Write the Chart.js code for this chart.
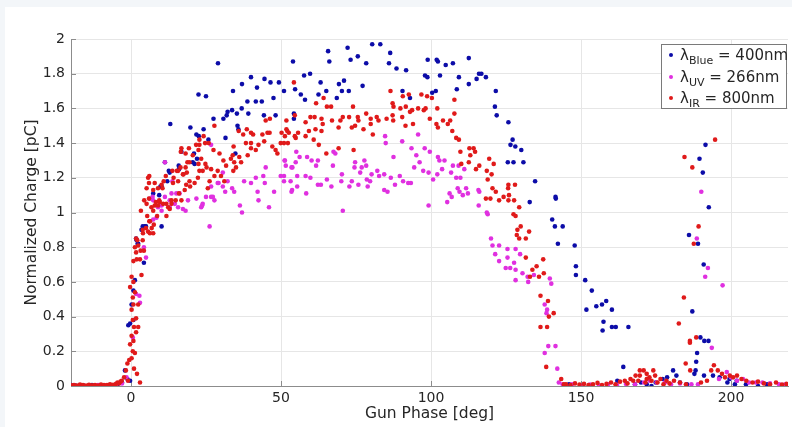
<!DOCTYPE html>
<html>
<head>
<meta charset="utf-8">
<script src="https://cdn.jsdelivr.net/npm/chart.js@4.4.0/dist/chart.umd.min.js"></script>
<style>
  html, body { margin: 0; padding: 0; }
  body { width: 792px; height: 427px; background: #f3f6f9; position: relative; overflow: hidden; font-family: "DejaVu Sans", sans-serif; }
  #panel { position: absolute; left: 5px; top: 7px; right: 0; bottom: 0; background: #fff; }
  #wrap { position: absolute; left: 0; top: 0; width: 792px; height: 427px; }
  #legend { position: absolute; left: 661px; top: 44px; width: 124px; height: 63px; border: 1px solid #7a7a7a; background: #fff; font-size: 15px; color: #262626; }
  .row { position: absolute; left: 0; height: 20px; line-height: 20px; white-space: nowrap; }
  .dot { position: absolute; left: 7px; top: 8px; width: 4px; height: 4px; border-radius: 50%; }
  .txt { position: absolute; left: 18px; top: 0; }
  sub { font-size: 11px; vertical-align: -4px; line-height: 0; }
</style>
</head>
<body>
<div id="panel"></div>
<div id="wrap"><canvas id="chart" width="792" height="427"></canvas></div>
<div id="legend">
  <div class="row" style="top:0px"><span class="dot" style="background:#0c0ca8"></span><span class="txt">&lambda;<sub>Blue</sub> = 400nm</span></div>
  <div class="row" style="top:22px"><span class="dot" style="background:#e030e0"></span><span class="txt">&lambda;<sub>UV</sub> = 266nm</span></div>
  <div class="row" style="top:43px"><span class="dot" style="background:#e01a1a"></span><span class="txt">&lambda;<sub>IR</sub> = 800nm</span></div>
</div>
<script>
// axis ticks
const xTicks = [0, 50, 100, 150, 200];
const yTicks = [0, 0.2, 0.4, 0.6, 0.8, 1, 1.2, 1.4, 1.6, 1.8, 2];
const yTickLabels = ['0', '0.2', '0.4', '0.6', '0.8', '1', '1.2', '1.4', '1.6', '1.8', '2'];

// [phase deg, charge pC]
const bluePoints = [
  [-20,0.005],[-18.5,0.003],[-16,0.004],[-13,0.006],[-10,0.003],[-7,0.006],[-4.5,0.01],[-3,0.02],[-2,0.09],[-1.2,0.04],[-0.3,0.03],
  [-0.9,0.35],[-0.3,0.36],[0.8,0.38],[0.2,0.47],[1.3,0.61],[0.8,0.55],[2.4,0.82],[1.7,0.85],[4.3,0.71],[3.5,0.9],[5,0.92],[1.9,0.84],
  [2.2,0.82],[4.6,0.92],[3.9,0.92],[10.2,0.92],[7.4,1.11],[10.2,1.15],[9.4,1.1],[9.8,1.15],[12.1,1.18],[12.6,1.24],[12.9,1.23],[11.3,1.29],
  [16,1.25],[15.9,1.27],[16.8,1.35],[13.1,1.51],[19.8,1.49],[21.8,1.45],[22.6,1.44],[24.2,1.48],[25.8,1.42],[20.6,1.29],[21,1.34],[22,1.31],
  [21.2,1.28],[27.5,1.54],[30.8,1.54],[31.9,1.56],[32.2,1.58],[33.7,1.59],[35.3,1.57],[36.9,1.6],[39.1,1.57],[38.8,1.64],[41.6,1.64],
  [43.6,1.64],[44.3,1.56],[48.2,1.56],[35.5,1.5],[35.8,1.48],[31.5,1.43],[34.8,1.34],[22.5,1.68],[25,1.67],[29,1.86],[34,1.7],[37,1.74],
  [40,1.78],[42,1.72],[44.5,1.77],[46.5,1.75],[47.5,1.66],
  [49.3,1.75],[51,1.7],[54,1.87],[54.7,1.71],[56.6,1.68],[58,1.65],[57.7,1.79],[59.7,1.8],[63.2,1.75],[62.5,1.68],[65.1,1.7],[65.7,1.93],
  [66.1,1.87],[68.6,1.66],[69.3,1.74],[70.3,1.7],[71,1.76],[72.2,1.95],[72.6,1.7],[73.2,1.88],[75.6,1.9],[77.2,1.73],[78.4,1.86],[80.4,1.97],
  [83.1,1.97],[86,1.86],[86.4,1.92],[88.5,1.83],[90.5,1.7],[91.7,1.82],[93,1.66],[98,1.79],[98.8,1.78],[98.9,1.88],[100.4,1.69],[101.6,1.7],
  [101.9,1.88],[102.3,1.87],[103,1.79],[104.9,1.85],[107.3,1.86],[108.6,1.71],[109.3,1.78],[112.6,1.89],[112.6,1.74],[115.2,1.77],[116,1.8],
  [116.8,1.8],[118.3,1.78],[121.6,1.7],[121.3,1.61],[121.9,1.56],[54.3,1.57],[54.3,1.54],
  [125.8,1.52],[127.2,1.42],[126.5,1.39],[128.1,1.38],[130.1,1.36],[125.6,1.29],[127.5,1.29],[130.8,1.29],[134.7,1.18],[132.9,1.06],
  [141.5,1.09],[141.6,1.08],[140.4,0.96],[141.3,0.92],[143.9,0.92],[142.3,0.82],[147.9,0.81],[148.3,0.69],[148.3,0.64],[151.4,0.61],
  [153.6,0.55],[151.8,0.44],[155.1,0.46],[157,0.47],[158.4,0.49],[160.3,0.44],[157.5,0.37],[157.2,0.32],[160.3,0.34],[161.6,0.34],
  [165.8,0.34],[164.1,0.11],[162.1,0.03],[171.9,0.01],[173.5,0],[174.9,0.02],[177.2,0.04],[178.7,0.05],[180.7,0.09],[181.8,0.06],[185.3,0.01],
  [187.1,0.43],[186,0.87],[189,0.82],[190.9,0.7],[192.6,1.03],[190.6,1.23],[189.5,1.31],[191.5,1.39],[189.8,0.28],[191.1,0.26],[192.5,0.26],
  [188.7,0.19],[188.4,0.14],[188.2,0.09],[187.8,0.07],[191,0.06],[194,0.06],[196.2,0.05],[198.8,0.02],[199.5,0.04],[201.3,0.01],[201.9,0.03],
  [168,0.01],[170,0.02],[183,0.02],[146,0.01],[150,0],[205,0.01],[209,0],[212,0.01]
];

const uvPoints = [
  [-20,0.002],[-17,0.004],[-14,0.003],[-11,0.005],[-8,0.004],[-5,0.008],[-3,0.015],[-1.5,0.05],
  [0.6,0.28],[1.7,0.53],[2.8,0.52],[3,0.48],[5,0.74],[4.3,0.8],[6.3,0.95],[7.4,0.96],[8.5,0.97],[10.2,1.01],[12.9,1.03],[7.2,1.09],
  [11.3,1.09],[13.5,1.11],[16.2,1.11],[18.2,1.01],[23.7,1.04],[26.2,0.92],[25,1.09],[29.2,1.17],[11.3,1.29],[6.3,1.08],[7.4,1.07],
  [9,1.03],[10.2,1.04],[12.9,1.07],[14.6,1.05],[15.7,1.03],[15.1,1.11],[13.8,1.18],[17.3,1.02],[19,1.07],[21.8,1.08],[23.4,1.03],
  [23.9,1.05],[26.7,1.09],[27.3,1.09],[27.8,1.07],[26.7,1.15],[28.9,1.17],[30.6,1.15],[31.4,1.12],[26.7,1.39],[30.6,1.23],[32.2,1.18],
  [33.7,1.14],[34.4,1.12],[36.3,1.04],[37,1],[37.7,1.18],[40,1.17],[41.6,1.2],[42.2,1.12],[42.5,1.07],[44.1,1.21],[44.6,1.17],[44.9,1.26],
  [46,1.03],[47.7,1.12],[49.9,1.21],[51,1.18],[53.2,1.18],[53.7,1.13],[53.5,1.26],[51.3,1.3],[54.9,1.29],
  [84.7,1.44],[84.9,1.4],[51.2,1.3],[51.6,1.27],[51,1.21],[53.8,1.26],[53.5,1.12],[55.1,1.35],[56.2,1.32],[58.7,1.32],[60.2,1.3],[62.3,1.3],
  [61.7,1.27],[55.4,1.21],[58.2,1.21],[59.8,1.2],[62.3,1.16],[63.3,1.16],[55.4,1.15],[58.4,1.11],[65.3,1.19],[66.8,1.15],[67.5,1.35],
  [68.1,1.34],[67.3,1.27],[70.3,1.22],[70.1,1.18],[70.6,1.01],[72.8,1.15],[73.6,1.18],[74.5,1.26],[74.7,1.29],[75.8,1.16],[76.4,1.23],
  [76.9,1.26],[77.8,1.3],[78.4,1.27],[78.6,1.19],[78.9,1.15],[79.7,1.18],[80.2,1.22],[82.1,1.24],[82.7,1.21],[84.4,1.22],[84.4,1.13],
  [85.5,1.12],[86.6,1.2],[87.5,1.32],[88,1.16],
  [90.4,1.41],[95.7,1.45],[93.5,1.37],[97.9,1.37],[99.6,1.35],[95.1,1.33],[94.4,1.26],[96.2,1.29],[97.4,1.24],[99.2,1.23],[89.6,1.21],
  [90.7,1.18],[92.4,1.17],[93.3,1.17],[102.3,1.32],[102.8,1.3],[104.5,1.3],[102.1,1.22],[103.7,1.25],[100.7,1.19],[107.3,1.27],[109.2,1.27],
  [106.7,1.23],[108.4,1.2],[109.8,1.2],[111.1,1.25],[106.2,1.11],[106.9,1.09],[108.9,1.14],[109.5,1.12],[110.6,1.1],[112.3,1.11],
  [111.7,1.14],[105.4,1.06],[99.2,1.04],[116.1,1.12],[115.9,1.04],[118.9,0.99],[115.8,1.13],[118.6,1],[120,0.85],[120.5,0.81],[121.4,0.76],
  [122.7,0.81],[122.7,0.72],[125.5,0.79],[125.5,0.74],[124.9,0.68],[126.4,0.68],[128.2,0.79],[129.7,0.76],[127.7,0.71],[128.2,0.67],
  [128.2,0.61],[130.5,0.65],[132.2,0.63],[132.4,0.6],[134.3,0.64],[139.6,0.62],[140.1,0.59],[137.9,0.47],[138.7,0.44],[138.5,0.42],
  [139.1,0.23],[141.5,0.23],[137.9,0.19],[142.1,0.1],[142.6,0.02],[143.9,0.01],
  [145,0.005],[147,0.01],[150,0.003],[153,0.008],[156,0.004],[159,0.01],[162,0.006],[165,0.012],[168,0.01],[171,0.02],[173,0.03],
  [175.2,0.02],[178,0.02],[180,0.01],[183,0.015],[186.8,0.01],[189,0.01],[188.6,0.85],[190.1,1.12],[191.4,0.63],[192.3,0.68],[197.2,0.58],
  [193.6,0.22],[198.6,0.08],[196,0.04],[200,0.05],[202,0.03],[204,0.04],[206,0.02],[208.3,0.02],[210.5,0.02],[213,0.015],[216,0.01],[218,0.008]
];

const irPoints = [
  [-20,0.004],[-19,0.006],[-18,0.003],[-17,0.008],[-16,0.005],[-15,0.002],[-14,0.007],[-13,0.004],[-12,0.006],[-11,0.003],[-10,0.008],
  [-9,0.005],[-8,0.006],[-7,0.01],[-6,0.007],[-5,0.012],[-4.5,0.02],[-4,0.015],[-3.5,0.025],
  [-3.1,0.03],[-2.3,0.05],[-1.7,0.09],[-1.2,0.13],[-0.6,0.15],[0.2,0.16],[0.6,0.2],[1.3,0.19],[-0.3,0.24],[0.8,0.26],[0.2,0.29],[1.7,0.31],
  [1,0.34],[0.6,0.38],[1.7,0.39],[2.4,0.34],[0.2,0.44],[0.8,0.47],[2.4,0.47],[0.6,0.51],[1.3,0.54],[-0.3,0.57],[0.8,0.6],[0.2,0.63],
  [3.5,0.64],[0.8,0.72],[1.9,0.73],[3,0.73],[1.7,0.77],[3.2,0.78],[4.3,0.78],[1.3,0.8],[2.4,0.81],[1.7,0.85],[2.1,0.84],[3.9,0.84],[4,0.88],
  [5.7,0.89],[3.9,0.9],[5,0.91],[6.3,0.88],[6.9,0.91],[7.4,0.88],[6.1,0.95],[7.6,0.93],[5.4,0.98],[6.3,0.95],[2,0.07],[3,0.02],[1,0.1],[-1,0.03],
  [5.7,1.2],[4.4,1.07],[5.2,1.05],[3.3,1.01],[6,1.08],[6.8,1.03],[7.4,1.01],[8.3,1.06],[9.4,1.07],[10.7,1.05],[12.4,1.03],[13.5,1.07],
  [14.9,1.07],[16,1.11],[16.8,1.07],[17.9,1.13],[18.4,1.16],[19.7,1.15],[19.5,1.18],[21.2,1.17],[22.3,1.2],[7.4,1.13],[9,1.14],[10.5,1.14],
  [5.2,1.14],[6,1.17],[10.9,1.18],[11.6,1.21],[13.8,1.24],[14.2,1.2],[15.3,1.24],[16.5,1.26],[17.5,1.22],[18.6,1.23],[16.6,1.35],[16.8,1.37],
  [18.2,1.34],[19.3,1.37],[20.6,1.33],[18.8,1.29],[18.2,1.26],[21.7,1.39],[22.5,1.36],[22.8,1.39],[22.8,1.42],[24.2,1.44],[24.7,1.4],
  [25.9,1.4],[27.8,1.5],[27.5,1.36],[23.4,1.31],[22.8,1.24],[23.9,1.24],[24.8,1.28],[25.2,1.26],[26.7,1.25],[29.5,1.34],[30.8,1.3],
  [31.7,1.27],[28.9,1.24],[30,1.21],[27.8,1.21],[26.2,1.18],[25.6,1.14],[33.3,1.31],[33.9,1.33],[34.2,1.38],[34.4,1.29],[34.1,1.24],
  [35,1.26],[36.1,1.32],[36.7,1.29],[35.9,1.47],[37.4,1.45],[38.3,1.4],[40,1.4],[40,1.37],[38.9,1.33],[40.7,1.45],[41.6,1.36],[42.5,1.39],
  [43.8,1.45],[44.4,1.41],[45.5,1.46],[46.2,1.46],[44.9,1.53],[46.3,1.54],[47.1,1.38],[48.2,1.36],[48.8,1.34],[49.9,1.4],[50.2,1.46],
  [51.3,1.44],[51.8,1.48],[52.6,1.46],[54.6,1.56],[54.9,1.43],[38.6,1.48],[40,1.46],[19.5,1.29],[22.5,1.28],[31.1,1.18],[8.7,0.98],
  [11.8,0.98],[12.9,1.02],[13.5,1.05],[15.7,1.18],[15.7,1.24],[17.3,1.22],[14,1.17],[10.2,1.16],[7.9,1.17],[6.1,1.21],[9.6,1.06],
  [11.8,1.05],[7.9,1.04],[9,1.04],
  [54.3,1.75],[64.2,1.66],[61.7,1.63],[65.3,1.61],[66.7,1.61],[74,1.61],[86.5,1.7],[87.2,1.63],[87.5,1.61],[51.8,1.53],[52.1,1.47],
  [51,1.4],[52.3,1.4],[54.6,1.44],[55.7,1.46],[58.2,1.44],[59.3,1.47],[58.2,1.52],[59.8,1.55],[61.2,1.55],[63.5,1.54],[63.9,1.51],
  [61.5,1.48],[63.5,1.47],[60.9,1.42],[62.6,1.39],[67,1.53],[69.8,1.53],[70.6,1.55],[72.7,1.55],[75.6,1.55],[75.8,1.53],[78.4,1.57],
  [79.9,1.54],[79.9,1.51],[81.9,1.55],[82.5,1.53],[77.5,1.48],[80.6,1.45],[73.6,1.49],[74.7,1.5],[69.2,1.49],[69.2,1.37],[65.1,1.34],
  [74.2,1.36],[85.2,1.54],[87.2,1.56],[87.4,1.53],
  [90.6,1.67],[92.6,1.68],[96.8,1.68],[98.7,1.67],[100.3,1.66],[89.8,1.6],[91.6,1.61],[95.7,1.6],[97.6,1.59],[98.2,1.6],[102.1,1.6],
  [93,1.58],[93.7,1.59],[90.4,1.55],[99.6,1.54],[104,1.53],[106.4,1.53],[107.8,1.57],[107.8,1.65],[105.6,1.51],
  [94,1.51],[91.5,1.5],[101.8,1.51],[102.3,1.49],[107.1,1.47],[108.4,1.43],[109.3,1.42],[109.8,1.35],[112.8,1.37],[114.2,1.37],
  [114.7,1.35],[113.1,1.33],[112.6,1.29],[110.1,1.28],[116.1,1.27],[115,1.25],[119.4,1.31],[120.9,1.28],[118.6,1.24],[120.2,1.22],
  [118.9,1.19],[120.5,1.14],[121.6,1.12],[118.3,1.08],[119.8,1.08],[122.7,1.07],[124.2,1.09],[125.7,1.14],[125.8,1.16],[128,1.16],
  [126,1.1],[127.7,1.07],[125.8,1.07],[129.4,1.03],[127.5,0.99],[128.2,0.98],[128.8,0.9],[129.9,0.92],[132.7,0.89],[128.6,0.87],
  [129.4,0.85],[131.6,0.85],[131.6,0.74],[133.8,0.67],[135.2,0.69],[137.4,0.73],[137.6,0.65],[136,0.63],[133,0.63],[136.5,0.52],
  [139,0.49],[140.9,0.42],[139.3,0.4],[136.5,0.34],[138.7,0.34],[138.4,0.11],[143.4,0.04],[144.3,0.01],
  [145,0.01],[146.5,0.005],[148,0.015],[149.5,0.008],[151,0.012],[152.5,0.005],[154,0.01],[155.5,0.018],[157,0.006],[158.5,0.012],
  [160,0.02],[161.5,0.01],[163,0.025],[164.6,0.03],[165.5,0.015],[166.5,0.04],[167.4,0.03],[168.2,0.06],[169.1,0.03],[169.6,0.09],
  [169.6,0.06],[170.9,0.09],[171.5,0.02],[171.9,0.07],[171.9,0.04],[172.8,0.05],[173.5,0.03],[174.1,0.09],[174.7,0.06],[175.5,0.02],
  [176.5,0.04],[177.5,0.01],[178.5,0.03],[179.5,0.015],[181,0.03],[182.6,0.36],[184.5,1.32],[184.3,0.51],[184.9,0.13],[186.3,0.26],
  [186.3,0.25],[186.4,0.09],[187.1,1.26],[187.6,0.82],[188.4,0.28],[189.2,0.92],[194.7,1.42],[193.4,0.09],[194.3,0.12],[195.6,0.09],
  [197,0.07],[198,0.05],[199.6,0.06],[200.7,0.05],[202,0.06],[203.5,0.04],[205.1,0.03],[207.2,0.02],[209,0.025],[211,0.015],[213,0.01],
  [215,0.02],[217,0.008],[218.5,0.012],[183,0.02],[185,0.01],[190,0.02],[192,0.03]
];

const toXY = pts => pts.map(p => ({ x: p[0], y: p[1] }));

// MATLAB style inward tick marks
const innerTicks = {
  id: 'innerTicks',
  beforeDatasetsDraw(chart) {
    const { ctx, chartArea: a, scales: { x, y } } = chart;
    ctx.save();
    ctx.strokeStyle = '#8c8c8c';
    ctx.lineWidth = 1;
    ctx.beginPath();
    xTicks.forEach(v => {
      const px = Math.round(x.getPixelForValue(v)) + 0.5;
      ctx.moveTo(px, a.bottom);
      ctx.lineTo(px, a.bottom - 5);
    });
    yTicks.forEach(v => {
      const py = Math.round(y.getPixelForValue(v)) + 0.5;
      ctx.moveTo(a.left, py);
      ctx.lineTo(a.left + 5, py);
    });
    ctx.stroke();
    ctx.restore();
  }
};

Chart.defaults.font.family = '"DejaVu Sans", sans-serif';
Chart.defaults.color = '#262626';

new Chart(document.getElementById('chart'), {
  type: 'scatter',
  data: {
    datasets: [
      { label: 'Blue 400nm', data: toXY(bluePoints), backgroundColor: '#0c0ca8', pointRadius: 2.3, pointBorderWidth: 0, order: 3 },
      { label: 'UV 266nm', data: toXY(uvPoints), backgroundColor: '#e030e0', pointRadius: 2.3, pointBorderWidth: 0, order: 2 },
      { label: 'IR 800nm', data: toXY(irPoints), backgroundColor: '#e01a1a', pointRadius: 2.3, pointBorderWidth: 0, order: 1 }
    ]
  },
  options: {
    responsive: false,
    animation: false,
    layout: { padding: { top: 39, right: 0, bottom: 0, left: 0 } },
    plugins: { legend: { display: false }, tooltip: { enabled: false } },
    scales: {
      x: {
        type: 'linear',
        min: -20,
        max: 219,
        afterBuildTicks: axis => { axis.ticks = xTicks.map(v => ({ value: v })); },
        afterFit: s => { s.height = 41; },
        grid: { color: '#e6e6e6', drawTicks: false },
        border: { display: true, color: '#8c8c8c' },
        ticks: { font: { size: 14 }, padding: 4, maxRotation: 0, callback: v => String(v) },
        title: { display: true, text: 'Gun Phase [deg]', font: { size: 15.5 }, padding: { top: 0, bottom: 4 } }
      },
      y: {
        min: 0,
        max: 2,
        afterBuildTicks: axis => { axis.ticks = yTicks.map(v => ({ value: v })); },
        afterFit: s => { s.width = 71; },
        grid: { color: '#e6e6e6', drawTicks: false },
        border: { display: true, color: '#8c8c8c' },
        ticks: { font: { size: 14 }, padding: 6, callback: (v, i) => yTickLabels[i] },
        title: { display: true, text: 'Normalized Charge [pC]', font: { size: 15.5 }, padding: { top: 23, bottom: 0 } }
      }
    }
  },
  plugins: [innerTicks]
});
</script>
</body>
</html>
